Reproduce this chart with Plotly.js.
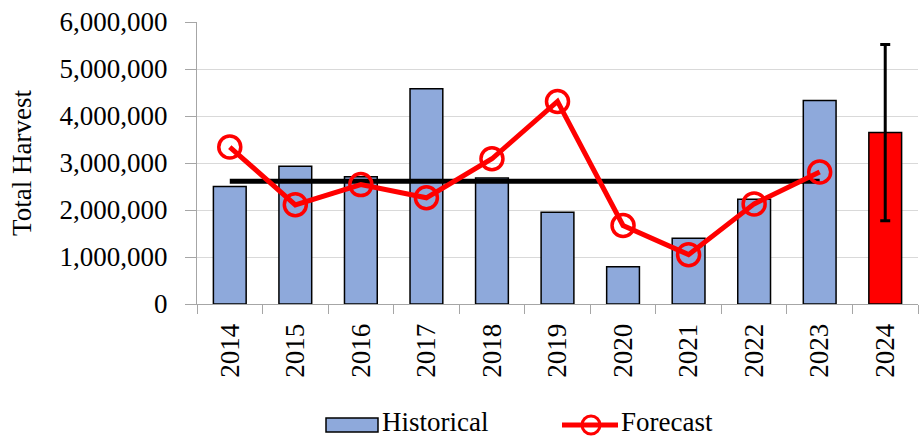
<!DOCTYPE html>
<html>
<head>
<meta charset="utf-8">
<script src="https://cdn.plot.ly/plotly-3.0.1.min.js"></script>
<style>html,body{margin:0;padding:0;background:#fff;}#chart{width:920px;height:438px;}</style>
</head>
<body>
<div id="chart"></div>
<script>
const years = ['2014','2015','2016','2017','2018','2019','2020','2021','2022','2023'];
const historical = [2500000, 2930000, 2710000, 4580000, 2680000, 1950000, 790000, 1400000, 2230000, 4330000];
const forecast = [3340000, 2110000, 2540000, 2260000, 3090000, 4310000, 1670000, 1050000, 2130000, 2810000];
const meanLine = [2610000, 2610000, 2610000, 2610000, 2610000, 2610000, 2610000, 2610000, 2610000, 2610000];
const forecastYear = ['2024'];
const forecastValue = [3650000];
const forecastErrorUp = [1870000];
const forecastErrorDown = [1880000];
const allYears = years.concat(forecastYear);
const legendLabels = ['Historical', 'Forecast'];

const font = 'Liberation Serif, Times New Roman, serif';
const fs = 27;
const barColor = '#8EA9DB';
const red = '#FF0000';

// plot area geometry (pixels)
const W = 920, H = 438, mL = 197, mR = 2, mT = 22, mB = 134;
const pw = W - mL - mR, ph = H - mT - mB;
const px = v => (v - mL) / pw;          // pixel x -> paper x
const py = v => (H - mB - v) / ph;      // pixel y -> paper y

const traces = [
  {
    type: 'bar', name: legendLabels[0], x: years, y: historical, width: 0.5, showlegend: false,
    marker: {color: barColor, line: {color: '#000000', width: 1.5}}
  },
  {
    type: 'bar', name: 'Forecast 2024', x: forecastYear, y: forecastValue, width: 0.5, showlegend: false,
    marker: {color: red, line: {color: '#000000', width: 1.5}},
    error_y: {type: 'data', symmetric: false, array: forecastErrorUp, arrayminus: forecastErrorDown,
              color: '#000000', thickness: 3, width: 5}
  },
  {
    type: 'scatter', mode: 'lines', name: 'Mean', x: years, y: meanLine, showlegend: false,
    line: {color: '#000000', width: 5}
  },
  {
    type: 'scatter', mode: 'lines+markers', name: legendLabels[1], x: years, y: forecast, showlegend: false,
    line: {color: red, width: 5},
    marker: {symbol: 'circle-open', size: 22, color: red, line: {color: red, width: 3.5}}
  }
];

// custom legend (matches the wide swatch of the original)
const legY = 425;
const legTextY = 422;
const shapes = [
  {type: 'rect', xref: 'paper', yref: 'paper', x0: px(326), x1: px(378), y0: py(418), y1: py(432),
   fillcolor: barColor, line: {color: '#000000', width: 1.5}},
  {type: 'line', xref: 'paper', yref: 'paper', x0: px(562), x1: px(618), y0: py(legY), y1: py(legY),
   line: {color: red, width: 5}},
  {type: 'circle', xref: 'paper', yref: 'paper', x0: px(582), x1: px(600), y0: py(434), y1: py(416),
   line: {color: red, width: 3}}
];
const annotations = [
  {xref: 'paper', yref: 'paper', x: px(381), y: py(legTextY), xanchor: 'left', yanchor: 'middle',
   text: legendLabels[0], showarrow: false, borderpad: 0, font: {family: font, size: 27, color: '#000000'}},
  {xref: 'paper', yref: 'paper', x: px(620), y: py(legTextY), xanchor: 'left', yanchor: 'middle',
   text: legendLabels[1], showarrow: false, borderpad: 0, font: {family: font, size: 27, color: '#000000'}}
];

const layout = {
  width: W, height: H,
  margin: {l: mL, r: mR, t: mT, b: mB, autoexpand: false},
  paper_bgcolor: '#ffffff', plot_bgcolor: '#ffffff',
  barmode: 'overlay',
  font: {family: font, size: fs, color: '#000000'},
  showlegend: false,
  shapes: shapes,
  annotations: annotations,
  xaxis: {
    type: 'category', categoryorder: 'array', categoryarray: allYears,
    range: [-0.5, 10.5],
    tickangle: -90, tickson: 'boundaries', ticks: 'outside', ticklen: 9, tickcolor: '#a6a6a6',
    ticklabelstandoff: 8,
    showline: true, linecolor: '#a6a6a6', linewidth: 1, showgrid: false, zeroline: false,
    tickfont: {family: font, size: fs, color: '#000000'}
  },
  yaxis: {
    range: [0, 6000000], dtick: 1000000, tick0: 0, tickformat: ',d',
    ticks: 'outside', ticklen: 11, tickcolor: '#a6a6a6', ticklabelstandoff: 12,
    showline: true, linecolor: '#a6a6a6', linewidth: 1,
    showgrid: true, gridcolor: '#d9d9d9', gridwidth: 1, zeroline: false,
    tickfont: {family: font, size: fs, color: '#000000'},
    title: {text: 'Total Harvest', font: {family: font, size: fs, color: '#000000'}, standoff: 20}
  }
};

Plotly.newPlot('chart', traces, layout, {displayModeBar: false, staticPlot: true});
</script>
</body>
</html>
